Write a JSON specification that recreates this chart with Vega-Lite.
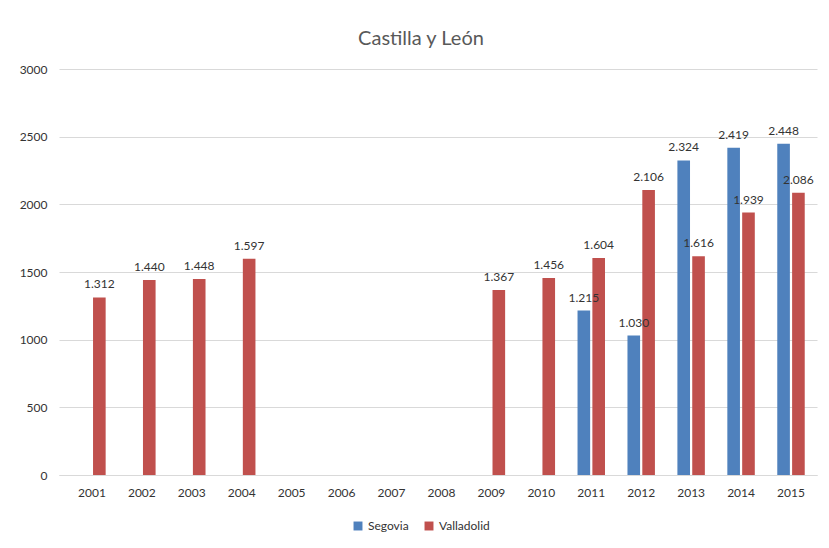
{
  "$schema": "https://vega.github.io/schema/vega-lite/v6.json",
  "width": 758,
  "height": 406,
  "autosize": {"type": "none"},
  "padding": {"left": 59, "top": 69, "right": 12, "bottom": 73},
  "background": "white",
  "title": {"text": "Castilla y León", "font": "Lato", "fontSize": 20, "fontWeight": "normal", "color": "#595959", "offset": 14, "dx": -17},
  "config": {
    "locale": {"number": {"decimal": ",", "thousands": ".", "grouping": [3], "currency": ["", " €"]}},
    "view": {"stroke": null},
    "font": "Lato"
  },
  "data": {"values": [
    {"year": "2001", "serie": "Valladolid", "value": 1312},
    {"year": "2002", "serie": "Valladolid", "value": 1440},
    {"year": "2003", "serie": "Valladolid", "value": 1448},
    {"year": "2004", "serie": "Valladolid", "value": 1597},
    {"year": "2009", "serie": "Valladolid", "value": 1367},
    {"year": "2010", "serie": "Valladolid", "value": 1456},
    {"year": "2011", "serie": "Segovia", "value": 1215},
    {"year": "2011", "serie": "Valladolid", "value": 1604},
    {"year": "2012", "serie": "Segovia", "value": 1030},
    {"year": "2012", "serie": "Valladolid", "value": 2106},
    {"year": "2013", "serie": "Segovia", "value": 2324},
    {"year": "2013", "serie": "Valladolid", "value": 1616},
    {"year": "2014", "serie": "Segovia", "value": 2419},
    {"year": "2014", "serie": "Valladolid", "value": 1939},
    {"year": "2015", "serie": "Segovia", "value": 2448},
    {"year": "2015", "serie": "Valladolid", "value": 2086}
  ]},
  "encoding": {
    "x": {
      "field": "year", "type": "nominal",
      "scale": {"domain": ["2001","2002","2003","2004","2005","2006","2007","2008","2009","2010","2011","2012","2013","2014","2015"], "paddingInner": 0.45, "paddingOuter": 0.315, "align": 0.61},
      "axis": {"title": null, "labelAngle": 0, "ticks": false, "domainColor": "#d9d9d9", "labelPadding": 12, "labelFontSize": 12, "labelColor": "#333333", "labelFont": "Lato"}
    },
    "xOffset": {"field": "serie", "type": "nominal", "scale": {"domain": ["Segovia", "Valladolid"], "paddingInner": 0.15}},
    "y": {
      "field": "value", "type": "quantitative",
      "scale": {"domain": [0, 3000], "nice": false},
      "axis": {"title": null, "values": [0,500,1000,1500,2000,2500,3000], "format": "d", "domain": false, "ticks": false, "gridColor": "#d9d9d9", "labelPadding": 12, "labelFontSize": 12, "labelColor": "#333333", "labelFont": "Lato"}
    }
  },
  "layer": [
    {
      "mark": {"type": "bar"},
      "encoding": {
        "color": {"field": "serie", "type": "nominal",
          "scale": {"domain": ["Segovia", "Valladolid"], "range": ["#4F81BD", "#C0504D"]},
          "legend": {"title": null, "orient": "none", "legendX": 293, "legendY": 451, "direction": "horizontal", "symbolType": "square", "symbolSize": 80, "labelFontSize": 12, "labelColor": "#333333", "labelFont": "Lato", "columnPadding": 14}
        }
      }
    },
    {
      "mark": {"type": "text", "baseline": "bottom", "dy": -6, "fontSize": 12, "fontWeight": "normal", "color": "#333333", "font": "Lato"},
      "encoding": {
        "text": {"field": "value", "type": "quantitative", "format": ",d"}
      }
    }
  ]
}
